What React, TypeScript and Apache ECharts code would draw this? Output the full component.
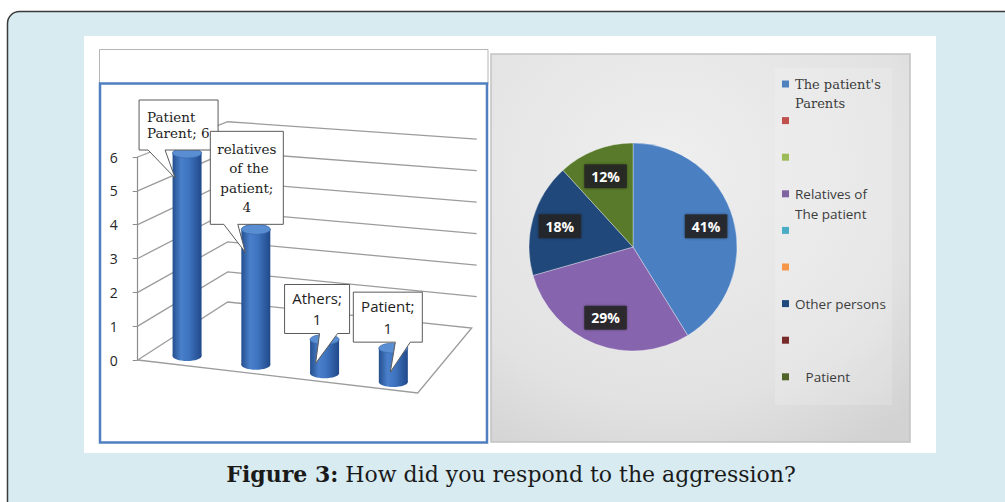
import { useEffect, useRef } from "react";
import * as echarts from "echarts";

// ---------- data ----------
const barCategories = ["Patient Parent", "relatives of the patient", "Athers", "Patient"];
const barValues = [6, 4, 1, 1];
const barLabelNames = ["Patient\nParent", "relatives\n of the\npatient", "Athers", "Patient"];
const barLabelSeparators = ["; ", ";\n", ";\n", ";\n"];
const yTicks = [0, 1, 2, 3, 4, 5, 6];

const pieNames = ["The patient's Parents", "Relatives of The patient", "Other persons", "Patient"];
const pieValues = [7, 5, 3, 2];
const pieColors = ["#4a7fc2", "#8765ae", "#21487a", "#587a2a"];

const legendLabels = ["The patient's\nParents", "", "", "Relatives of\nThe patient", "", "", "Other persons", "", "   Patient"];
const legendColors = ["#4f81bd", "#c0504d", "#9bbb59", "#8064a2", "#4bacc6", "#f79646", "#1f497d", "#772c2a", "#4f6228"];

const captionBold = "Figure 3:";
const captionRest = " How did you respond to the aggression?";

// ---------- layout (positions / styles) ----------
// callout geometry relative to bar top centre: box [x0,y0,x1,y1], pointer base [bx0,bx1], tip [tx,ty]
const CALLOUTS = [
  { box: [-48, -53, 31, -3], base: [-39, -22], tip: [-12, 25], font: "DejaVu Serif", size: 13.5, lh: 16, align: "left" },
  { box: [-45.5, -98, 27.5, -5], base: [-32, -18], tip: [-10.5, 23], font: "DejaVu Serif", size: 13.5, lh: 19.5, align: "center" },
  { box: [-40, -55, 25, -6], base: [-5, 13], tip: [-9, 24], font: "Open Sans", size: 15, lh: 21, align: "center" },
  { box: [-40, -56, 29, -6], base: [2, 17], tip: [-3, 24], font: "Open Sans", size: 15, lh: 22, align: "center" },
];

export default function App() {
  const ref = useRef<HTMLDivElement>(null);

  useEffect(() => {
    document.body.style.margin = "0";
    const chart = echarts.init(ref.current!, null, { renderer: "svg" });

    const legendGraphics: any[] = [];
    legendLabels.forEach((lab, i) => {
      const yc = 84 + i * 36.6;
      legendGraphics.push({
        type: "rect",
        shape: { x: 782, y: yc - 3.5, width: 7, height: 7 },
        style: { fill: legendColors[i] },
      });
      if (lab) {
        const serif = i === 0;
        legendGraphics.push({
          type: "text",
          x: 795,
          y: yc - 9.5,
          style: {
            text: lab,
            fill: "#3c3c3c",
            fontFamily: serif ? "DejaVu Serif" : "Open Sans",
            fontSize: serif ? 13 : 13.5,
            lineHeight: 19.5,
            align: "left",
            verticalAlign: "top",
          },
        });
      }
    });

    const option: any = {
      animation: false,
      backgroundColor: "#ffffff",
      graphic: [
        {
          type: "rect",
          shape: { x: 7.5, y: 11.5, width: 1100, height: 600, r: 12 },
          style: { fill: "#d7ebf1", stroke: "#3a3a3a", lineWidth: 1.5 },
        },
        { type: "rect", shape: { x: 84, y: 36, width: 852, height: 417 }, style: { fill: "#ffffff" } },
        {
          type: "rect",
          shape: { x: 99.5, y: 49.5, width: 388.5, height: 35 },
          style: { fill: "#ffffff", stroke: "#b5b5b5", lineWidth: 1 },
        },
        {
          type: "rect",
          shape: { x: 100, y: 83.5, width: 387, height: 359 },
          style: { fill: "#ffffff", stroke: "#4f7fbf", lineWidth: 2.5 },
        },
        {
          type: "rect",
          shape: { x: 491, y: 54, width: 419, height: 388 },
          style: {
            fill: new echarts.graphic.RadialGradient(0.42, 0.3, 0.85, [
              { offset: 0, color: "#efefef" },
              { offset: 0.7, color: "#e2e2e2" },
              { offset: 1, color: "#d2d2d2" },
            ]),
            stroke: "#c2c2c2",
            lineWidth: 1.5,
          },
        },
        {
          type: "rect",
          shape: { x: 775, y: 68, width: 117, height: 337 },
          style: { fill: "rgba(255,255,255,0.16)" },
        },
        ...legendGraphics,
        {
          type: "text",
          x: 511,
          y: 474,
          style: {
            text: "{b|" + captionBold + "}" + captionRest,
            fill: "#1a1a1a",
            fontFamily: "DejaVu Serif",
            fontSize: 22,
            align: "center",
            verticalAlign: "middle",
            rich: {
              b: { fontFamily: "DejaVu Serif", fontSize: 22, fontWeight: "bold", fill: "#1a1a1a" },
            },
          },
        },
      ],
      grid: { left: 152.7, width: 275, top: 157, height: 203 },
      xAxis: { type: "category", data: barCategories, show: false },
      yAxis: {
        type: "value",
        min: 0,
        max: 6,
        interval: 1,
        offset: 15,
        axisLine: { show: true, lineStyle: { color: "#8c8c8c", width: 1.2 } },
        axisTick: { show: true, length: 5, lineStyle: { color: "#8c8c8c" } },
        splitLine: { show: false },
        axisLabel: { margin: 20, color: "#262626", fontFamily: "Open Sans", fontSize: 14 },
      },
      series: [
        {
          type: "custom",
          clip: false,
          silent: true,
          data: yTicks.map((k) => [0, k]),
          renderItem: (params: any, api: any) => {
            const k = api.value(1);
            const yk = api.coord([0, k])[1];
            const y0 = api.coord([0, 0])[1];
            const cs = params.coordSys;
            const t = y0 - yk;
            const fx = cs.x - 15;
            const blx = fx + 90;
            const bly = y0 - 58 - t * 0.888;
            const brx = cs.x + cs.width + 49;
            const bry = y0 - 32 - t * 0.93;
            if (k === 0) {
              return {
                type: "polygon",
                shape: {
                  points: [
                    [fx, y0],
                    [cs.x + cs.width - 10, y0 + 33],
                    [cs.x + cs.width + 44, y0 - 32],
                    [blx, bly],
                  ],
                },
                style: { fill: "#ffffff", stroke: "#9c9c9c", lineWidth: 1.3 },
              };
            }
            return {
              type: "polyline",
              shape: { points: [[fx, yk], [blx, bly], [brx, bry]] },
              style: { fill: null, stroke: "#9c9c9c", lineWidth: 1.3 },
            };
          },
        },
        {
          type: "custom",
          clip: false,
          silent: true,
          data: barValues.map((v, i) => [i, v]),
          renderItem: (params: any, api: any) => {
            const i = api.value(0);
            const v = api.value(1);
            const firstX = api.coord([0, 0])[0];
            const p0 = api.coord([i, 0]);
            const p1 = api.coord([i, v]);
            const cx = p0[0];
            const shift = (cx - firstX) * 0.126 - 4;
            const base = p0[1] + shift;
            const top = p1[1] + shift;
            const hw = 14.5;
            const grad = new echarts.graphic.LinearGradient(0, 0, 1, 0, [
              { offset: 0, color: "#244f8e" },
              { offset: 0.3, color: "#4a80cb" },
              { offset: 0.55, color: "#3f75c0" },
              { offset: 1, color: "#21498a" },
            ]);
            const c = CALLOUTS[i];
            const [x0, y0, x1, y1] = c.box;
            const bx = [cx + c.base[0], cx + c.base[1]];
            const box = [cx + x0, top + y0, cx + x1, top + y1];
            const text = barLabelNames[i] + barLabelSeparators[i] + String(barValues[i]);
            return {
              type: "group",
              children: [
                { type: "ellipse", shape: { cx, cy: base, rx: hw, ry: 5 }, style: { fill: grad } },
                { type: "rect", shape: { x: cx - hw, y: top, width: hw * 2, height: base - top }, style: { fill: grad } },
                {
                  type: "ellipse",
                  shape: { cx, cy: top, rx: hw, ry: 5 },
                  style: { fill: "#5a8ed3", stroke: "#3a69ad", lineWidth: 0.8 },
                },
                {
                  type: "polygon",
                  shape: {
                    points: [
                      [box[0], box[1]],
                      [box[2], box[1]],
                      [box[2], box[3]],
                      [bx[1], box[3]],
                      [cx + c.tip[0], top + c.tip[1]],
                      [bx[0], box[3]],
                      [box[0], box[3]],
                    ],
                  },
                  style: { fill: "#ffffff", stroke: "#5a5a5a", lineWidth: 1 },
                },
                {
                  type: "text",
                  x: c.align === "left" ? box[0] + 8 : (box[0] + box[2]) / 2,
                  y: (box[1] + box[3]) / 2,
                  style: {
                    text,
                    fill: "#1e1e1e",
                    fontFamily: c.font,
                    fontSize: c.size,
                    lineHeight: c.lh,
                    align: c.align,
                    verticalAlign: "middle",
                  },
                },
              ],
            };
          },
        },
        {
          type: "pie",
          center: [633, 247],
          radius: [0, 104],
          startAngle: 90,
          clockwise: true,
          silent: true,
          label: { show: false },
          labelLine: { show: false },
          itemStyle: { borderColor: "rgba(255,255,255,0.35)", borderWidth: 1 },
          data: pieNames.map((n, i) => ({ name: n, value: pieValues[i], itemStyle: { color: pieColors[i] } })),
        },
        {
          type: "pie",
          center: [633, 247],
          radius: [42, 104],
          startAngle: 90,
          clockwise: true,
          silent: true,
          itemStyle: { color: "rgba(0,0,0,0)" },
          labelLine: { show: false },
          label: {
            show: true,
            position: "inside",
            formatter: (p: any) => Math.round(p.percent) + "%",
            color: "#ffffff",
            fontFamily: "Open Sans",
            fontWeight: "bold",
            fontSize: 14,
            backgroundColor: "rgba(36,36,36,0.88)",
            padding: [5, 7],
            borderRadius: 1,
            shadowBlur: 3,
            shadowColor: "rgba(0,0,0,0.4)",
          },
          data: pieNames.map((n, i) => ({ name: n, value: pieValues[i] })),
        },
      ],
    };

    chart.setOption(option);
    return () => chart.dispose();
  }, []);

  return <div ref={ref} style={{ width: 1005, height: 502 }} />;
}
